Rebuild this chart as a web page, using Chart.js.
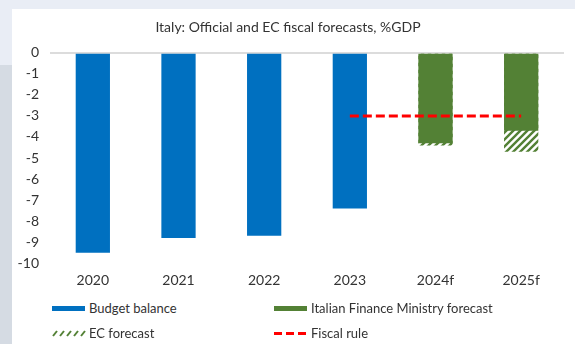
<!DOCTYPE html>
<html>
<head>
<meta charset="utf-8">
<script src="https://cdn.jsdelivr.net/npm/chart.js@4"></script>
<style>
  html, body { margin: 0; padding: 0; }
  body {
    width: 575px; height: 344px; overflow: hidden; position: relative;
    background: #e9edf5; font-family: Lato, "Open Sans", sans-serif;
  }
  #sideBand { position: absolute; left: 0; top: 65px; width: 12px; bottom: 0; background: #d5dbe3; }
  #panel { position: absolute; left: 12px; top: 9px; right: 0; bottom: 0; background: #fff; }
  #chartBox { position: absolute; left: 0; top: 0; width: 563px; height: 285px; }
  #legend {
    position: absolute; left: 0; top: 285px; width: 563px;
    display: grid; grid-template-columns: 222px 280px; grid-auto-rows: 25px;
    padding-left: 40px; padding-top: 1px; box-sizing: border-box;
    font-size: 13px; color: #333;
  }
  .item { display: flex; align-items: center; }
  .item canvas { margin-right: 3px; }
</style>
</head>
<body>
<div id="sideBand"></div>
<div id="panel">
  <div id="chartBox"><canvas id="fiscalChart"></canvas></div>
  <div id="legend"></div>
</div>
<script>
// ----- Data -----
const categories = ["2020", "2021", "2022", "2023", "2024f", "2025f"];
const budgetBalance = [-9.5, -8.8, -8.7, -7.4, null, null];
const ministryForecast = [null, null, null, null, -4.3, -3.7];
const ecForecast = [null, null, null, null, -4.4, -4.7];
const fiscalRule = [null, null, null, -3, -3, -3];
const yTicks = [0, -1, -2, -3, -4, -5, -6, -7, -8, -9, -10];

const BLUE = "#0070c0";
const GREEN = "#538135";
const RED = "#ff0000";
const TEXT = "#333333";

// diagonal green hatch on white
function makeHatch(size) {
  const c = document.createElement("canvas");
  c.width = size; c.height = size;
  const g = c.getContext("2d");
  g.fillStyle = "#fff";
  g.fillRect(0, 0, size, size);
  g.strokeStyle = GREEN;
  g.lineWidth = 2.4;
  g.beginPath();
  g.moveTo(-1, 1); g.lineTo(1, -1);
  g.moveTo(0, size); g.lineTo(size, 0);
  g.moveTo(size - 1, size + 1); g.lineTo(size + 1, size - 1);
  g.stroke();
  return g.createPattern(c, "repeat");
}
const hatch = makeHatch(7);

// ----- Chart -----
const ctx = document.getElementById("fiscalChart").getContext("2d");
const chart = new Chart(ctx, {
  type: "bar",
  data: {
    labels: categories,
    datasets: [
      { label: "Budget balance", data: budgetBalance, backgroundColor: BLUE, order: 3 },
      { label: "Italian Finance Ministry forecast", data: ministryForecast, backgroundColor: GREEN, order: 1 },
      { label: "EC forecast", data: ecForecast, backgroundColor: hatch, order: 2 },
      {
        label: "Fiscal rule", type: "line", data: fiscalRule,
        borderColor: RED, borderWidth: 3, borderDash: [9, 4],
        pointRadius: 0, fill: false, order: 0
      }
    ]
  },
  options: {
    animation: false,
    responsive: true,
    maintainAspectRatio: false,
    categoryPercentage: 0.8,
    barPercentage: 0.5,
    layout: { padding: { left: 0, right: 11, top: 0, bottom: 4 } },
    plugins: {
      legend: { display: false },
      tooltip: { enabled: false },
      title: {
        display: true,
        text: "Italy: Official and EC fiscal forecasts, %GDP",
        color: TEXT,
        font: { family: "Lato", size: 14, weight: "normal" },
        padding: { top: 10, bottom: 17 }
      }
    },
    scales: {
      x: {
        stacked: true,
        grid: { display: false },
        border: { display: false },
        ticks: { color: TEXT, font: { family: "Lato", size: 14 }, padding: 1 }
      },
      y: {
        min: -10,
        max: 0,
        afterFit: (s) => { s.width = 38; },
        afterBuildTicks: (s) => { s.ticks = yTicks.map((v) => ({ value: v })); },
        grid: {
          drawTicks: false,
          color: (c) => (c.tick && c.tick.value === 0 ? "#dcdcdc" : "rgba(0,0,0,0)"),
          lineWidth: 2
        },
        border: { display: false },
        ticks: { color: TEXT, font: { family: "Lato", size: 14 }, padding: 11 }
      }
    }
  }
});

// ----- Legend -----
function swatch(kind, color) {
  const c = document.createElement("canvas");
  c.width = 34; c.height = 10;
  const g = c.getContext("2d");
  if (kind === "bar") {
    g.fillStyle = color;
    g.fillRect(0, 3, 33, 5);
  } else if (kind === "hatch") {
    g.strokeStyle = GREEN;
    g.lineWidth = 2;
    for (let x = 0; x < 33; x += 7) {
      g.beginPath(); g.moveTo(x + 1, 8); g.lineTo(x + 5, 3); g.stroke();
    }
  } else {
    g.strokeStyle = RED;
    g.lineWidth = 3;
    g.setLineDash([8, 4]);
    g.beginPath(); g.moveTo(0, 5.5); g.lineTo(33, 5.5); g.stroke();
  }
  return c;
}
const legendItems = [
  ["Budget balance", () => swatch("bar", BLUE)],
  ["Italian Finance Ministry forecast", () => swatch("bar", GREEN)],
  ["EC forecast", () => swatch("hatch")],
  ["Fiscal rule", () => swatch("dash")]
];
const legendEl = document.getElementById("legend");
legendItems.forEach(([text, mk]) => {
  const d = document.createElement("div");
  d.className = "item";
  d.appendChild(mk());
  d.appendChild(document.createTextNode(text));
  legendEl.appendChild(d);
});
</script>
</body>
</html>
